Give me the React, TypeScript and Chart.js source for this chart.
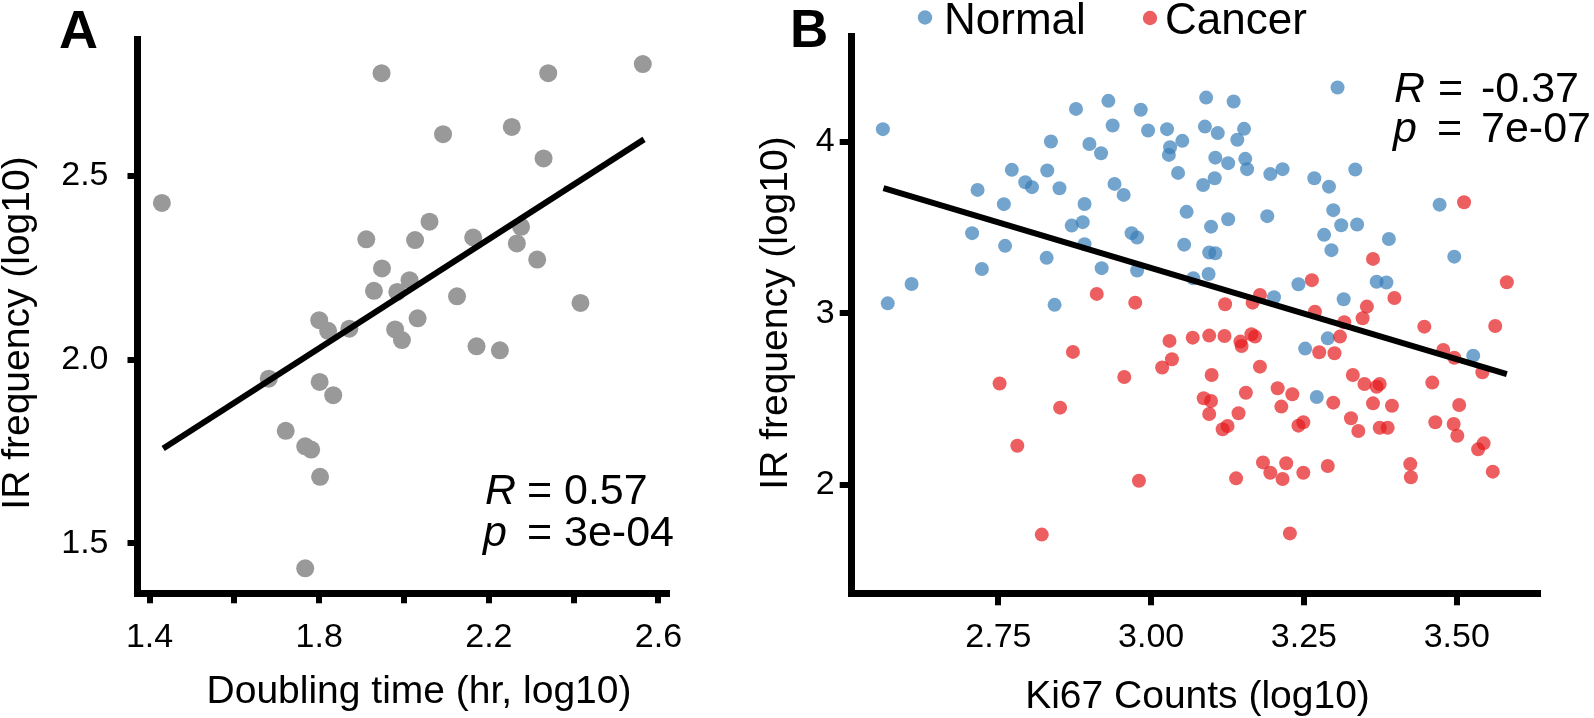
import React, { useEffect, useRef } from 'react';
import { Chart, registerables } from 'chart.js';

Chart.register(...registerables);

const FONT = '"Liberation Sans", Arial, Helvetica, sans-serif';

// ---------- Panel A data ----------
const doublingTime = [1.947, 2.340, 2.563, 2.092, 2.254, 2.329, 1.429, 2.060, 1.911, 2.026, 2.163, 2.276, 2.266, 2.314, 1.948, 2.013, 1.929, 1.984, 2.125, 2.416, 1.800, 1.821, 1.871, 2.032, 1.979, 1.995, 2.171, 2.226, 1.681, 1.801, 1.833, 1.721, 1.767, 1.781, 1.802, 1.767];
const irFreqA = [2.779, 2.779, 2.804, 2.613, 2.633, 2.547, 2.426, 2.375, 2.327, 2.325, 2.332, 2.361, 2.316, 2.272, 2.248, 2.216, 2.187, 2.184, 2.172, 2.154, 2.107, 2.078, 2.084, 2.112, 2.082, 2.053, 2.036, 2.025, 1.948, 1.939, 1.903, 1.806, 1.764, 1.755, 1.681, 1.432];
const fitAX = [1.432, 2.566];
const fitAY = [1.758, 2.599];
const ticksAX = [1.4, 1.6, 1.8, 2.0, 2.2, 2.4, 2.6];
const labelsAX = ['1.4', '', '1.8', '', '2.2', '', '2.6'];
const ticksAY = [1.5, 2.0, 2.5];
const labelsAY = ['1.5', '2.0', '2.5'];

// ---------- Panel B data ----------
const normalKi67 = [2.561, 2.877, 2.930, 2.983, 2.937, 2.995, 3.026, 3.031, 3.029, 3.044, 2.836, 2.899, 2.918, 2.772, 2.830, 2.794, 2.805, 2.850, 2.716, 2.940, 2.955, 2.759, 2.891, 2.870, 2.888, 2.968, 2.977, 2.707, 2.761, 2.891, 2.829, 2.723, 2.919, 2.977, 2.608, 2.569, 2.842,
  3.090, 3.135, 3.305, 3.088, 3.109, 3.152, 3.141, 3.051, 3.105, 3.126, 3.154, 3.157, 3.104, 3.085, 3.195, 3.215, 3.267, 3.291, 3.334, 3.058, 3.126, 3.098, 3.190, 3.298, 3.311, 3.337, 3.283, 3.295, 3.389, 3.472, 3.496, 3.054, 3.095, 3.105, 3.094, 3.069, 3.241, 3.369, 3.385, 3.201, 3.315, 3.289, 3.252, 3.271, 3.527];
const normalIR = [4.074, 4.192, 4.239, 4.187, 4.095, 4.066, 4.074, 3.969, 3.924, 3.819, 4.002, 3.988, 3.934, 3.837, 3.833, 3.765, 3.736, 3.730, 3.720, 3.755, 3.691, 3.637, 3.638, 3.512, 3.532, 3.468, 3.442, 3.468, 3.394, 3.404, 3.324, 3.259, 3.264, 3.250, 3.172, 3.059, 3.050,
  4.258, 4.235, 4.317, 4.089, 4.051, 4.076, 4.012, 4.006, 3.908, 3.876, 3.901, 3.841, 3.788, 3.749, 3.812, 3.841, 3.788, 3.739, 3.839, 3.592, 3.549, 3.506, 3.567, 3.602, 3.514, 3.518, 3.458, 3.369, 3.434, 3.634, 3.331, 3.401, 3.355, 3.351, 3.230, 3.205, 3.170, 3.185, 3.180, 3.094, 3.083, 2.855, 2.795, 2.513, 2.754];
const cancerKi67 = [2.911, 2.974, 3.030, 3.034, 3.018, 2.872, 2.956, 2.752, 2.851, 2.781, 2.980, 2.821, 3.512, 3.363, 3.263, 3.582, 3.178, 3.398,
  3.121, 3.166, 3.268, 3.316, 3.353, 3.346, 3.447, 3.563, 3.068, 3.095, 3.120, 3.146, 3.148, 3.164, 3.170, 3.309, 3.275, 3.300, 3.478, 3.496, 3.542, 3.099, 3.178, 3.330, 3.349, 3.369, 3.374, 3.460,
  3.086, 3.098, 3.155, 3.207, 3.231, 3.213, 3.095, 3.143, 3.298, 3.363, 3.394, 3.504, 3.117, 3.125, 3.241, 3.249, 3.327, 3.339, 3.374, 3.387, 3.465, 3.495, 3.501, 3.535, 3.544,
  3.183, 3.221, 3.195, 3.139, 3.215, 3.249, 3.289, 3.424, 3.425, 3.559, 3.227];
const cancerIR = [3.114, 3.063, 2.840, 2.733, 2.685, 2.776, 2.630, 2.592, 2.451, 2.229, 2.025, 1.711, 3.648, 3.318, 3.194, 3.182, 3.108, 3.090,
  3.054, 3.063, 3.010, 2.949, 3.040, 2.972, 2.923, 2.927, 2.859, 2.871, 2.869, 2.836, 2.810, 2.879, 2.865, 2.865, 2.774, 2.768, 2.787, 2.742, 2.657, 2.641, 2.690, 2.641, 2.589, 2.573, 2.589, 2.597,
  2.506, 2.490, 2.538, 2.564, 2.529, 2.457, 2.414, 2.418, 2.480, 2.476, 2.462, 2.466, 2.325, 2.344, 2.346, 2.366, 2.389, 2.315, 2.334, 2.334, 2.366, 2.356, 2.287, 2.208, 2.243,
  2.132, 2.127, 2.072, 2.039, 2.035, 2.072, 2.111, 2.122, 2.045, 2.078, 1.718];
const fitBX = [2.562, 3.582];
const fitBY = [3.730, 2.647];
const ticksBX = [2.75, 3.0, 3.25, 3.5];
const labelsBX = ['2.75', '3.00', '3.25', '3.50'];
const ticksBY = [2, 3, 4];
const labelsBY = ['2', '3', '4'];
const seriesNames = ['Normal', 'Cancer'];
const statsA = ['0.57', '3e-04'];
const statsB = ['-0.37', '7e-07'];

const NORMAL_COLOR = 'rgba(55,126,184,0.7)';
const CANCER_COLOR = 'rgba(228,26,28,0.7)';

type TextItem = { text: string; x: number; y: number; font: string; align?: CanvasTextAlign; rotate?: boolean; };
type DotItem = { x: number; y: number; r: number; color: string };

function overlayPlugin(id: string, texts: TextItem[], dots: DotItem[]) {
  return {
    id,
    afterDraw(chart: any) {
      const ctx: CanvasRenderingContext2D = chart.ctx;
      ctx.save();
      ctx.fillStyle = '#000';
      ctx.textBaseline = 'alphabetic';
      for (const t of texts) {
        ctx.save();
        ctx.font = t.font;
        ctx.textAlign = t.align || 'left';
        if (t.rotate) {
          ctx.translate(t.x, t.y);
          ctx.rotate(-Math.PI / 2);
          ctx.fillText(t.text, 0, 0);
        } else {
          ctx.fillText(t.text, t.x, t.y);
        }
        ctx.restore();
      }
      for (const d of dots) {
        ctx.beginPath();
        ctx.fillStyle = d.color;
        ctx.arc(d.x, d.y, d.r, 0, Math.PI * 2);
        ctx.fill();
      }
      ctx.restore();
    },
  };
}

function makeScale(axis: 'x' | 'y', min: number, max: number, values: number[], labels: string[], size: number, tickLength: number, padding: number) {
  return {
    type: 'linear',
    position: axis === 'x' ? 'bottom' : 'left',
    min,
    max,
    afterBuildTicks: (s: any) => { s.ticks = values.map((v) => ({ value: v })); },
    afterFit: (s: any) => { if (axis === 'x') s.height = size; else s.width = size; },
    ticks: {
      autoSkip: false,
      maxRotation: 0,
      minRotation: 0,
      padding,
      color: '#000',
      font: { family: FONT, size: 34 },
      callback: (v: number) => {
        const i = values.findIndex((t) => Math.abs(t - v) < 1e-9);
        return i >= 0 ? labels[i] : '';
      },
    },
    grid: { display: true, drawOnChartArea: false, drawTicks: true, tickLength, tickWidth: 6, tickColor: '#000', color: '#000', lineWidth: 6 },
    border: { display: true, width: 7, color: '#000' },
    title: { display: false },
  };
}

function pts(xs: number[], ys: number[]) {
  return xs.map((x, i) => ({ x, y: ys[i] }));
}

export default function App() {
  const refA = useRef<HTMLCanvasElement>(null);
  const refB = useRef<HTMLCanvasElement>(null);

  useEffect(() => {
    const statFont = `43px ${FONT}`;
    const statItalic = `italic 43px ${FONT}`;
    const textsA: TextItem[] = [
      { text: 'A', x: 59, y: 48, font: `bold 54px ${FONT}` },
      { text: 'Doubling time (hr, log10)', x: 419, y: 703, font: `39px ${FONT}`, align: 'center' },
      { text: 'IR frequency (log10)', x: 29, y: 333, font: `39px ${FONT}`, align: 'center', rotate: true },
      { text: 'R', x: 485, y: 503.5, font: statItalic },
      { text: '=', x: 527, y: 503.5, font: statFont },
      { text: statsA[0], x: 564, y: 503.5, font: statFont },
      { text: 'p', x: 483, y: 545.5, font: statItalic },
      { text: '=', x: 527, y: 545.5, font: statFont },
      { text: statsA[1], x: 564, y: 545.5, font: statFont },
    ];
    const chartA = new Chart(refA.current!, {
      type: 'scatter',
      data: {
        datasets: [
          { label: 'fit', data: pts(fitAX, fitAY), showLine: true, borderColor: '#000', borderWidth: 6, pointRadius: 0, borderCapStyle: 'butt', order: 0, clip: false } as any,
          { label: 'cells', data: pts(doublingTime, irFreqA), backgroundColor: '#999999', borderWidth: 0, pointRadius: 9, order: 1, clip: false } as any,
        ],
      },
      options: {
        animation: false,
        responsive: false,
        maintainAspectRatio: false,
        devicePixelRatio: 1,
        layout: { padding: { left: 0, top: 39.3, right: 52.6, bottom: 0 } },
        plugins: { legend: { display: false }, tooltip: { enabled: false } },
        events: [],
        scales: {
          x: makeScale('x', 1.3715, 2.621, ticksAX, labelsAX, 124.7, 10, 14) as any,
          y: makeScale('y', 1.364, 2.871, ticksAY, labelsAY, 137.5, 10, 19) as any,
        },
      },
      plugins: [overlayPlugin('overlayA', textsA, [])],
    });

    const off = 720;
    const textsB: TextItem[] = [
      { text: 'B', x: 790 - off, y: 46.7, font: `bold 53px ${FONT}` },
      { text: seriesNames[0], x: 944 - off, y: 34, font: `44px ${FONT}` },
      { text: seriesNames[1], x: 1165 - off, y: 34, font: `44px ${FONT}` },
      { text: 'Ki67 Counts (log10)', x: 1197.5 - off, y: 708, font: `39px ${FONT}`, align: 'center' },
      { text: 'IR frequency (log10)', x: 787 - off, y: 313, font: `39px ${FONT}`, align: 'center', rotate: true },
      { text: 'R', x: 1394 - off, y: 101.7, font: statItalic },
      { text: '=', x: 1438 - off, y: 101.7, font: statFont },
      { text: statsB[0], x: 1481 - off, y: 101.7, font: statFont },
      { text: 'p', x: 1393 - off, y: 141.7, font: statItalic },
      { text: '=', x: 1437 - off, y: 141.7, font: statFont },
      { text: statsB[1], x: 1481 - off, y: 141.7, font: statFont },
    ];
    const dotsB: DotItem[] = [
      { x: 925 - off, y: 17.5, r: 7.2, color: NORMAL_COLOR },
      { x: 1150 - off, y: 18, r: 7.2, color: CANCER_COLOR },
    ];
    const chartB = new Chart(refB.current!, {
      type: 'scatter',
      data: {
        datasets: [
          { label: 'fit', data: pts(fitBX, fitBY), showLine: true, borderColor: '#000', borderWidth: 6, pointRadius: 0, borderCapStyle: 'butt', order: 0, clip: false } as any,
          { label: seriesNames[1], data: pts(cancerKi67, cancerIR), backgroundColor: CANCER_COLOR, borderWidth: 0, pointRadius: 7, order: 1, clip: false } as any,
          { label: seriesNames[0], data: pts(normalKi67, normalIR), backgroundColor: NORMAL_COLOR, borderWidth: 0, pointRadius: 7, order: 2, clip: false } as any,
        ],
      },
      options: {
        animation: false,
        responsive: false,
        maintainAspectRatio: false,
        devicePixelRatio: 1,
        layout: { padding: { left: 0, top: 36, right: 56, bottom: 0 } },
        plugins: { legend: { display: false }, tooltip: { enabled: false } },
        events: [],
        scales: {
          x: makeScale('x', 2.510, 3.633, ticksBX, labelsBX, 124.7, 12, 12) as any,
          y: makeScale('y', 1.369, 4.617, ticksBY, labelsBY, 131.7, 12, 5) as any,
        },
      },
      plugins: [overlayPlugin('overlayB', textsB, dotsB)],
    });

    return () => {
      chartA.destroy();
      chartB.destroy();
    };
  }, []);

  return (
    <div style={{ position: 'absolute', left: 0, top: 0, width: 1594, height: 718, background: '#fff' }}>
      <canvas ref={refA} width={720} height={718} style={{ position: 'absolute', left: 0, top: 0, width: 720, height: 718 }} />
      <canvas ref={refB} width={874} height={718} style={{ position: 'absolute', left: 720, top: 0, width: 874, height: 718 }} />
    </div>
  );
}
